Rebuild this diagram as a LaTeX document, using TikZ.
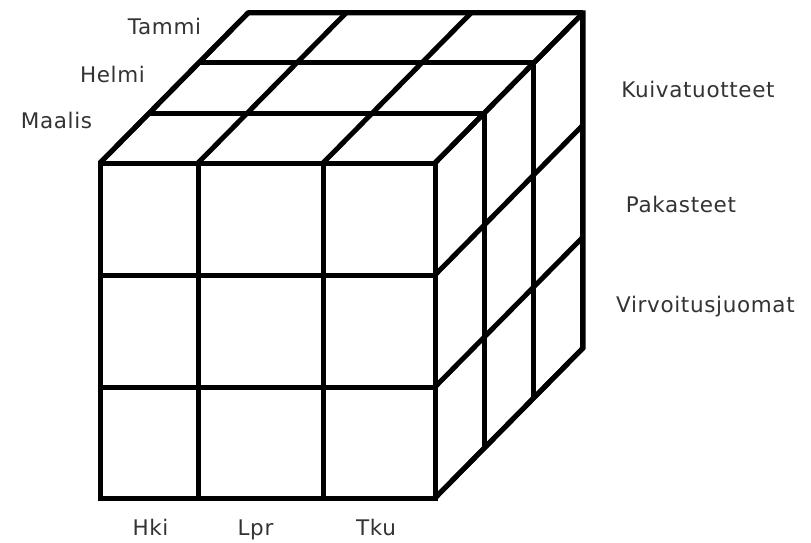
\documentclass[tikz,border=0pt]{standalone}
\usepackage{fontspec}
\setmainfont{DejaVu Sans}[LetterSpace=3]
\definecolor{labelgray}{HTML}{333333}
\begin{document}
\begin{tikzpicture}[x=1pt,y=-1pt,
  gridline/.style={line width=5pt,black,line join=miter},
  lbl/.style={text=labelgray,font=\fontsize{21.5}{24}\selectfont,inner sep=0pt,anchor=base}]
\useasboundingbox (0,0) rectangle (811,543);
% top face: lines across at each depth
\foreach \d in {0,1,2,3}{
  \draw[gridline] ({100+49.33*\d},{163-50*\d}) -- ({435+49.33*\d},{163-50*\d});
}
% top face: depth lines from front columns
\foreach \x in {100,198,323,435}{
  \draw[gridline] (\x,163) -- ({\x+148},13);
}
% right face: vertical lines at each depth
\foreach \d in {0,1,2,3}{
  \draw[gridline] ({435+49.33*\d},{163-50*\d}) -- ({435+49.33*\d},{498-50*\d});
}
% right face: depth lines from front rows
\foreach \y in {163,275,387,498}{
  \draw[gridline] (435,\y) -- (583,{\y-150});
}
% front face grid
\foreach \x in {198,323}{
  \draw[gridline] (\x,163) -- (\x,498);
}
\foreach \y in {275,387}{
  \draw[gridline] (100,\y) -- (435,\y);
}
\draw[gridline] (100,163) rectangle (435,498);
\draw[gridline] (100,163) -- (248,13) -- (583,13) -- (583,348) -- (435,498);
% labels
\node[lbl] (tammi) at (164.5,35) {Tammi};
\node[lbl] (helmi) at (112.5,82) {Helmi};
\node[lbl] (maalis) at (56.5,128) {Maalis};
\node[lbl] (kuiva) at (698,97) {Kuivatuotteet};
\node[lbl] (pakas) at (681,212) {Pakasteet};
\node[lbl,anchor=base west] (virvo) at (616,312) {Virvoitusjuomat};
\node[lbl] (hki) at (150.5,535) {Hki};
\node[lbl] (lpr) at (255.5,535) {Lpr};
\node[lbl] (tku) at (376,535) {Tku};
\end{tikzpicture}
\end{document}
